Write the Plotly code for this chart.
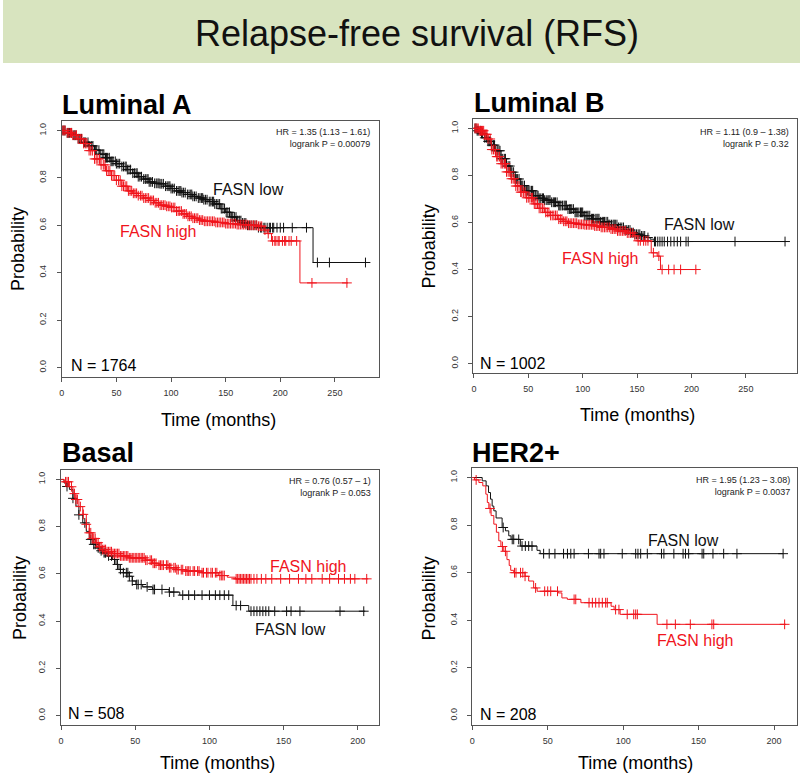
import plotly.graph_objects as go

# ---------------- DATA ----------------
# Luminal A
la_low_t = [0, 5, 10, 15, 20, 25, 30, 35, 40, 45, 50, 55, 60, 65, 70, 75, 80, 85, 90, 95, 100, 105, 110, 115,
            120, 125, 130, 135, 140, 145, 150, 155, 160, 165, 170, 180, 230, 279]
la_low_p = [1.0, 0.99, 0.98, 0.965, 0.95, 0.935, 0.917, 0.9, 0.885, 0.87, 0.86, 0.848, 0.835, 0.82, 0.805, 0.795,
            0.783, 0.777, 0.775, 0.765, 0.755, 0.745, 0.738, 0.73, 0.722, 0.715, 0.708, 0.7, 0.69, 0.67, 0.655,
            0.635, 0.62, 0.61, 0.6, 0.59, 0.443, 0.443]
la_low_cens = [1, 2, 3, 5, 6, 7, 9, 11, 12, 13, 15, 16.5, 18, 20, 21, 22, 24, 25, 27, 28.5, 30, 31, 32, 34, 35,
               37, 38.5, 40, 41, 42, 43.5, 45, 46, 47, 49, 50, 51.5, 53, 55, 56.5, 58, 59, 60, 61.5, 63, 65, 66.5,
               68, 69, 70, 71.5, 73, 75, 76.5, 78, 79, 80, 81.5, 83, 85, 86.5, 88, 89, 90, 91.5, 93, 95, 96.5, 98,
               99, 100, 101.5, 103, 105, 106.5, 108, 109, 110, 111.5, 113, 115, 116.5, 118, 119, 120, 121.5, 123,
               125, 126.5, 128, 129, 130, 131.5, 133, 135, 136.5, 138, 139, 140, 141.5, 143, 144.5, 146, 147.5, 149,
               150.5, 152, 153.5, 155, 156.5, 158, 159.5, 161, 162.5, 164, 165.5, 167, 168.5, 170, 172, 174, 176,
               178, 180, 182, 183, 185, 186, 188, 190, 191, 193, 194, 197, 200, 203, 211, 224, 234, 245, 278]
la_high_t = [0, 5, 10, 15, 20, 25, 30, 35, 40, 45, 50, 55, 60, 65, 70, 75, 80, 85, 90, 95, 100, 105, 110, 115, 120,
             125, 130, 140, 150, 160, 170, 180, 185, 188, 192, 218, 262]
la_high_p = [1.0, 0.99, 0.98, 0.965, 0.945, 0.915, 0.88, 0.855, 0.83, 0.81, 0.79, 0.765, 0.745, 0.735, 0.725, 0.715,
             0.705, 0.695, 0.685, 0.68, 0.675, 0.66, 0.648, 0.638, 0.63, 0.622, 0.617, 0.612, 0.607, 0.603, 0.6,
             0.596, 0.58, 0.565, 0.534, 0.357, 0.357]
la_high_cens = [1, 2, 3, 5, 6.5, 8, 9, 10, 12, 13.5, 15, 17, 18.5, 20, 21.5, 23, 25, 26.5, 28, 30, 31.5, 33, 34.5,
                36, 38, 39.5, 41, 42.5, 44, 45.5, 47, 48.5, 50, 52, 53.5, 55, 56.5, 58, 59.5, 61, 62.5, 64, 65.5,
                67, 68.5, 70, 72, 73.5, 75, 76.5, 78, 79.5, 81, 82.5, 84, 85.5, 87, 88.5, 90, 91.5, 93, 94.5, 96,
                97.5, 99, 100.5, 102, 103.5, 105, 106.5, 108, 109.5, 111, 112.5, 114, 115.5, 117, 118.5, 120, 121.5,
                123, 124.5, 126, 127.5, 129, 130.5, 132, 133.5, 135, 136.5, 138, 139.5, 141, 142.5, 144, 145.5, 147,
                148.5, 150, 151.5, 153, 154.5, 156, 157.5, 159, 160.5, 162, 163.5, 165, 166.5, 168, 169.5, 171,
                172.5, 174, 175.5, 177, 178.5, 180, 181.5, 183, 186, 189, 193, 195, 196, 198, 199, 202, 204, 205,
                208, 210, 215, 229, 261]

# Luminal B
lb_low_t = [0, 3, 6.7, 10, 13, 16, 20, 25, 30, 34, 38, 43, 48, 55, 60, 65, 71, 78, 86, 93, 101, 108, 116, 124, 132,
            138, 144, 148, 153, 158, 162, 165.5, 287]
lb_low_p = [1.0, 0.99, 0.979, 0.96, 0.945, 0.929, 0.905, 0.871, 0.84, 0.814, 0.785, 0.757, 0.735, 0.714, 0.703,
            0.695, 0.686, 0.672, 0.657, 0.643, 0.629, 0.616, 0.603, 0.591, 0.579, 0.568, 0.557, 0.55, 0.543, 0.536,
            0.529, 0.519, 0.519]
lb_low_cens = [1, 2, 3, 4, 6, 7, 8, 10, 11.5, 13, 14, 15, 16.5, 18, 19, 20, 21.5, 23, 24, 25, 26.5, 28, 29, 30,
               31.5, 33, 34, 35, 36.5, 38, 39, 40, 41.5, 43, 44, 45, 46.5, 48, 49, 50, 51.5, 53, 54, 55, 56.5, 58,
               59, 60, 61.5, 63, 64, 65, 66.5, 68, 69, 70, 71.5, 73, 74, 75, 76.5, 78, 79, 80, 81.5, 83, 84, 85,
               86.5, 88, 89, 90, 91.5, 93, 94, 95, 96.5, 98, 99, 100, 101.5, 103, 104, 105, 106.5, 108, 109, 110,
               111.5, 113, 114, 115, 116.5, 118, 119, 120, 121.5, 123, 124, 125, 126.5, 128, 129, 130, 131.5, 133,
               134.5, 136, 137.5, 139, 140.5, 142, 143.5, 145, 146.5, 148, 149.5, 151, 152.5, 154, 155.5, 157, 160,
               166, 167, 169, 171, 173, 175, 178, 181, 184, 187, 190, 195, 197, 240, 286]
lb_high_t = [0, 5, 10, 13, 16, 20, 25, 30, 34, 38, 43, 48, 55, 60, 65, 70, 77, 82, 86, 95, 101, 110, 117, 125, 132,
             140, 147, 150, 163, 168.5, 171.5, 204.5]
lb_high_p = [1.0, 0.99, 0.975, 0.955, 0.91, 0.88, 0.85, 0.815, 0.786, 0.755, 0.729, 0.705, 0.679, 0.66, 0.643,
             0.63, 0.614, 0.605, 0.597, 0.592, 0.59, 0.585, 0.579, 0.572, 0.564, 0.555, 0.543, 0.522, 0.471,
             0.457, 0.4, 0.4]
lb_high_cens = [1, 2, 3, 4, 5, 6, 7, 8, 9, 10, 11, 12, 13, 15, 16.5, 18, 19.5, 21, 22, 23.5, 25, 26.5, 28, 29, 30,
                31.5, 33, 34.5, 36, 37, 38.5, 40, 41.5, 43, 44, 45.5, 47, 48.5, 50, 51.5, 53, 54, 55.5, 57, 58.5,
                60, 61.5, 63, 64.5, 66, 67.5, 69, 70.5, 72, 73.5, 75, 76.5, 78, 79.5, 81, 82.5, 84, 85.5, 87, 88.5,
                90, 91.5, 93, 94.5, 96, 97.5, 99, 100.5, 102, 103.5, 105, 106.5, 108, 109.5, 111, 112.5, 114, 115.5,
                117, 118.5, 120, 121.5, 123, 124.5, 126, 127.5, 129, 130.5, 132, 133.5, 135, 136.5, 138, 139.5, 141,
                142.5, 144, 146, 148, 151, 153, 156, 158, 160, 165, 170, 173, 179, 184, 190, 204]

# Basal
ba_low_t = [0, 2, 4, 5.6, 8, 10, 12, 14.6, 17, 19, 21, 23.5, 26, 28, 31, 34.7, 37, 39, 42, 46, 48, 50.4, 55, 61.6,
            72.8, 80, 115.8, 126.5, 205]
ba_low_p = [1.0, 0.985, 0.97, 0.958, 0.92, 0.887, 0.85, 0.816, 0.78, 0.746, 0.725, 0.71, 0.698, 0.689, 0.676,
            0.661, 0.64, 0.619, 0.605, 0.59, 0.57, 0.555, 0.545, 0.534, 0.523, 0.51, 0.466, 0.442, 0.442]
ba_low_cens = [4, 8, 12, 16, 20, 22, 23, 25, 27, 29, 30, 32, 34, 36, 38, 40, 42, 44, 45, 46, 48, 51, 52, 54, 58,
               62, 63, 68, 73, 76, 82, 86, 90, 95, 100, 104, 107, 110, 113, 118, 121, 128, 130, 132, 134, 136, 138,
               140, 144, 152, 155, 161, 188, 204]
ba_high_t = [0, 2, 5.6, 8, 10, 12, 14.6, 17, 19, 21, 23.5, 26, 28, 31, 34.7, 40, 46, 57, 61.6, 66, 72.8, 78, 84, 95,
             106, 112, 117.6, 207]
ba_high_p = [1.0, 0.99, 0.969, 0.94, 0.915, 0.885, 0.852, 0.81, 0.774, 0.75, 0.732, 0.715, 0.703, 0.694, 0.686,
             0.676, 0.668, 0.658, 0.645, 0.637, 0.626, 0.618, 0.612, 0.605, 0.593, 0.586, 0.579, 0.579]
ba_high_cens = [3, 4, 5, 7, 9, 10, 11, 13, 15, 17, 19, 20, 21, 22, 23, 24, 25, 26, 27, 28, 29, 30, 31, 32, 33, 34,
                35, 36, 37, 38, 39, 40, 41, 42, 43, 44, 45, 46, 47, 48, 49, 50, 51, 52, 53, 54, 55, 56, 57, 58, 60,
                61, 62, 63, 64, 66, 67, 68, 69, 71, 72, 73, 74, 76, 77, 78, 79, 81, 82, 84, 85, 86, 87, 89, 90, 92,
                93, 95, 96, 98, 99, 101, 102, 104, 105, 107, 108, 109, 110, 118, 119, 120, 121, 122, 123, 124, 125,
                126, 127, 128, 130, 132, 135, 138, 142, 148, 154, 160, 165, 169, 176, 181, 187, 191, 195, 198, 206]

# HER2+
he_low_t = [0, 6.6, 9.2, 10.8, 12.1, 13.2, 14.3, 15.8, 19.8, 22, 24.2, 25.7, 31.9, 42.9, 45, 206]
he_low_p = [1.0, 0.986, 0.965, 0.937, 0.909, 0.88, 0.86, 0.83, 0.79, 0.776, 0.755, 0.74, 0.712, 0.694, 0.68, 0.68]
he_low_cens = [20.5, 26.5, 27.5, 30.8, 33, 35.2, 37.4, 39.6, 47.3, 51, 54.8, 60.5, 63.1, 65.3, 67.5, 77, 84, 85.1,
               87.3, 99.4, 108.3, 109.8, 111.6, 116, 125.4, 127, 133.6, 139.7, 141.3, 143.4, 152.3, 153.4, 159.5,
               166.6, 175.4, 206]
he_high_t = [0, 1.5, 4.4, 7, 9, 10, 11, 12.5, 14.3, 16, 17.6, 19, 20.9, 23, 24.5, 25.5, 27.5, 35, 37.4, 40.7, 43,
             57, 59.4, 63, 72, 92, 94, 98, 122.5, 208]
he_high_p = [1.0, 0.99, 0.979, 0.965, 0.93, 0.895, 0.87, 0.84, 0.804, 0.77, 0.734, 0.71, 0.69, 0.655, 0.63, 0.61,
             0.6, 0.585, 0.565, 0.536, 0.522, 0.515, 0.494, 0.488, 0.474, 0.459, 0.445, 0.425, 0.383, 0.383]
he_high_cens = [2.6, 11.8, 20, 22, 28, 29, 32, 33.5, 35, 42, 48, 50, 52, 56.5, 67.5, 68.6, 77.4, 79.6, 81.8, 84,
                86.2, 88.4, 89.5, 95, 97.2, 102.7, 107, 108.3, 109.4, 129, 134.6, 144.5, 158.8, 160, 207]

panel_titles = ["Luminal A", "Luminal B", "Basal", "HER2+"]
hr_texts = ["HR = 1.35 (1.13 – 1.61)<br>logrank P = 0.00079",
            "HR = 1.11 (0.9 – 1.38)<br>logrank P = 0.32",
            "HR = 0.76 (0.57 – 1)<br>logrank P = 0.053",
            "HR = 1.95 (1.23 – 3.08)<br>logrank P = 0.0037"]
n_texts = ["N = 1764", "N = 1002", "N = 508", "N = 208"]
x_ticks_top = [0, 50, 100, 150, 200, 250]
x_ticks_bottom = [0, 50, 100, 150, 200]
y_ticks = [0.0, 0.2, 0.4, 0.6, 0.8, 1.0]

# ---------------- LAYOUT HELPERS ----------------
W, H = 800, 775
FONT = "Liberation Sans, Arial, Helvetica, sans-serif"
RED = "#f0141c"
BLACK = "#111111"


def px(x):
    return x / W


def py(y):
    return 1 - y / H


def step_value(ts, ps, t):
    v = ps[0]
    for ti, pi in zip(ts, ps):
        if ti <= t:
            v = pi
        else:
            break
    return v


panels = [
    dict(data=(la_low_t, la_low_p, la_low_cens, la_high_t, la_high_p, la_high_cens),
         box=(59, 377, 121, 377), xr=[0, 290], ticks=x_ticks_top),
    dict(data=(lb_low_t, lb_low_p, lb_low_cens, lb_high_t, lb_high_p, lb_high_cens),
         box=(472, 797, 119, 373), xr=[-0.6, 297], ticks=x_ticks_top),
    dict(data=(ba_low_t, ba_low_p, ba_low_cens, ba_high_t, ba_high_p, ba_high_cens),
         box=(58, 377, 470, 725), xr=[-0.2, 214], ticks=x_ticks_bottom),
    dict(data=(he_low_t, he_low_p, he_low_cens, he_high_t, he_high_p, he_high_cens),
         box=(471, 797, 468, 725), xr=[0, 215.2], ticks=x_ticks_bottom),
]

fig = go.Figure()
layout_axes = {}
for i, pn in enumerate(panels):
    k = "" if i == 0 else str(i + 1)
    lt, lp, lc, ht, hp, hc = pn["data"]
    for (ts, ps, cs, col) in [(lt, lp, lc, BLACK), (ht, hp, hc, RED)]:
        fig.add_trace(go.Scatter(x=ts, y=ps, mode="lines", line=dict(color=col, width=1, shape="hv"),
                                 xaxis="x" + k, yaxis="y" + k, showlegend=False, hoverinfo="skip"))
        fig.add_trace(go.Scatter(x=cs, y=[step_value(ts, ps, c) for c in cs], mode="markers",
                                 marker=dict(symbol="cross-thin", size=7, line=dict(color=col, width=1)),
                                 xaxis="x" + k, yaxis="y" + k, showlegend=False, hoverinfo="skip"))
    x0, x1, y0, y1 = pn["box"]
    common = dict(showline=True, mirror=True, linecolor="#555555", linewidth=1, ticks="outside", ticklen=4,
                  tickcolor="#555555", showgrid=False, zeroline=False,
                  tickfont=dict(family=FONT, size=9, color="#333333"))
    layout_axes["xaxis" + k] = dict(domain=[px(x0), px(x1)], range=pn["xr"], anchor="y" + k,
                                    tickvals=pn["ticks"], ticklabelstandoff=3, **common)
    layout_axes["yaxis" + k] = dict(domain=[py(y1), py(y0)], range=[-0.04, 1.04], anchor="x" + k,
                                    tickvals=y_ticks, tickformat=".1f", tickangle=-90,
                                    ticklabelstandoff=7, **common)

fig.update_layout(**layout_axes)

ann = []


def add_text(x, y, text, size, color="black", bold=False, xanchor="center", align="center"):
    t = "<b>" + text + "</b>" if bold else text
    ann.append(dict(x=px(x), y=py(y), xref="paper", yref="paper", text=t, showarrow=False,
                    xanchor=xanchor, yanchor="middle", align=align,
                    font=dict(family=FONT, size=size, color=color)))


# banner title
add_text(416, 33, "Relapse-free survival (RFS)", 36, color="#111111")

# panel titles
add_text(57, 105, panel_titles[0], 27, bold=True, xanchor="left")
add_text(471, 103, panel_titles[1], 27, bold=True, xanchor="left")
add_text(57, 453, panel_titles[2], 27, bold=True, xanchor="left")
add_text(469, 453, panel_titles[3], 27, bold=True, xanchor="left")

# HR texts (right aligned)
add_text(370, 138, hr_texts[0], 9, color="#222222", xanchor="right", align="right")
add_text(791, 138, hr_texts[1], 9, color="#222222", xanchor="right", align="right")
add_text(371, 487, hr_texts[2], 9, color="#222222", xanchor="right", align="right")
add_text(792, 486, hr_texts[3], 9, color="#222222", xanchor="right", align="right")

# N texts
add_text(66, 365, n_texts[0], 16, xanchor="left")
add_text(477, 363, n_texts[1], 16, xanchor="left")
add_text(63, 713, n_texts[2], 16, xanchor="left")
add_text(477, 714, n_texts[3], 16, xanchor="left")

# group labels
add_text(246, 190, "FASN low", 16, color=BLACK)
add_text(156, 232, "FASN high", 16, color=RED)
add_text(699, 225, "FASN low", 16, color=BLACK)
add_text(599, 258, "FASN high", 16, color=RED)
add_text(306, 566, "FASN high", 16, color=RED)
add_text(289, 629, "FASN low", 16, color=BLACK)
add_text(683, 540, "FASN low", 16, color=BLACK)
add_text(695, 640, "FASN high", 16, color=RED)

# axis titles
for (x, y) in [(216, 420), (637, 415), (215, 763), (635, 763)]:
    add_text(x, y, "Time (months)", 18)
for (x, y) in [(15, 249), (428, 246), (17, 598), (428, 598)]:
    ann.append(dict(x=px(x), y=py(y), xref="paper", yref="paper", text="Probability", showarrow=False,
                    textangle=-90, xanchor="center", yanchor="middle",
                    font=dict(family=FONT, size=18, color="black")))

fig.update_layout(
    width=W, height=H, margin=dict(l=0, r=0, t=0, b=0),
    paper_bgcolor="white", plot_bgcolor="white",
    annotations=ann,
    shapes=[dict(type="rect", xref="paper", yref="paper", x0=0, x1=1, y0=py(63), y1=1,
                 fillcolor="#d8e4bf", line=dict(width=0), layer="below")],
)

fig.write_html("out.html", config={"displayModeBar": False},
               post_script="document.body.style.margin='0';document.body.style.overflow='hidden';")
